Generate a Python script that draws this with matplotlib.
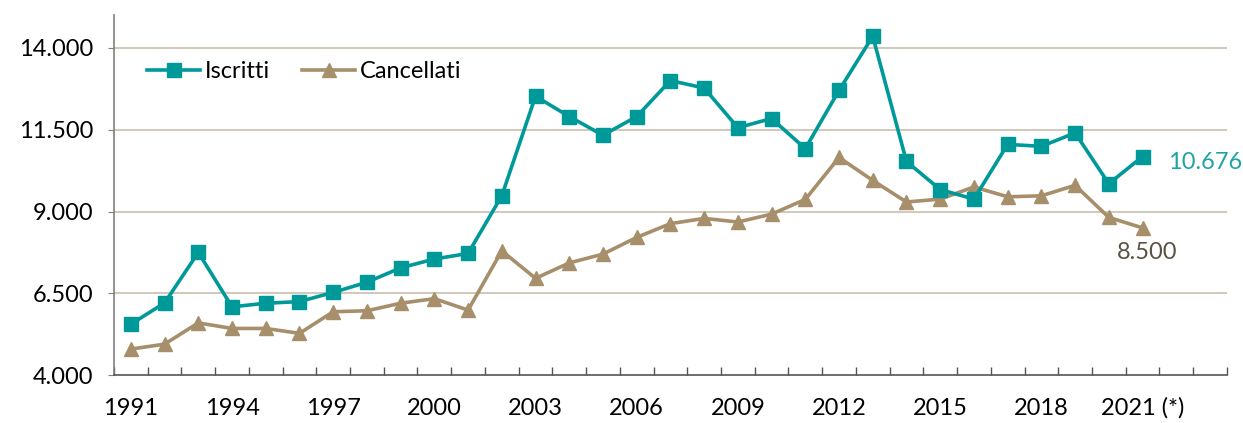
import matplotlib
matplotlib.use("Agg")
import matplotlib.pyplot as plt
import numpy as np

years = list(range(1991, 2022))
tick_labels = ["1991", "1994", "1997", "2000", "2003", "2006", "2009",
               "2012", "2015", "2018", "2021 (*)"]
iscritti = [5560, 6210, 7750, 6090, 6200, 6250, 6530, 6840, 7280, 7550, 7720,
            9480, 12520, 11900, 11330, 11900, 13000, 12770, 11560, 11840, 10920,
            12700, 14350, 10530, 9670, 9380, 11050, 10990, 11400, 9850, 10676]
cancellati = [4800, 4950, 5600, 5430, 5430, 5280, 5940, 5970, 6200, 6340, 5990,
              7800, 6960, 7430, 7700, 8210, 8630, 8790, 8680, 8920, 9370,
              10650, 9950, 9290, 9380, 9750, 9450, 9480, 9800, 8820, 8500]
n_categories = 33

plt.rcParams['font.family'] = ['Lato', 'DejaVu Sans']

teal = "#009999"
tan = "#A68F6A"
grid_c = "#C9BFAE"
fs = 17

fig = plt.figure(figsize=(12.43, 4.23), dpi=100)
ax = fig.add_axes([0.0917, 0.1128, 0.8953, 0.8517])

x = np.arange(len(years))
ax.plot(x, iscritti, color=teal, lw=2.6, marker='s', ms=10, label="Iscritti",
        zorder=4)
ax.plot(x, cancellati, color=tan, lw=2.6, marker='^', ms=10, label="Cancellati",
        zorder=3)

ax.set_xlim(-0.5, n_categories - 0.5)
ax.set_ylim(4000, 15000)
yt = [4000, 6500, 9000, 11500, 14000]
ax.set_yticks(yt)
ax.set_yticklabels([f"{v:,}".replace(",", ".") for v in yt], fontsize=fs)
for v in yt[1:]:
    ax.axhline(v, color=grid_c, lw=1.2, zorder=1)

ax.set_xticks(np.arange(-0.5, n_categories, 1.0), minor=True)
ax.set_xticks([years.index(int(l[:4])) for l in tick_labels])
ax.set_xticklabels(tick_labels, fontsize=fs)
ax.tick_params(axis='x', which='major', length=0, pad=16)
ax.tick_params(axis='x', which='minor', direction='in', length=6, color="#555555",
               width=1)
ax.tick_params(axis='y', length=4, color="#808080", pad=11, direction='out')

for s in ['top', 'right']:
    ax.spines[s].set_visible(False)
ax.spines['left'].set_color("#808080")
ax.spines['bottom'].set_color("#555555")
ax.spines['left'].set_linewidth(1.2)
ax.spines['bottom'].set_linewidth(1.2)

leg = ax.legend(loc='center left', bbox_to_anchor=(0.03, 0.842), ncol=2,
                frameon=False, fontsize=fs, handlelength=2.25, handletextpad=0.2,
                columnspacing=1.35, borderaxespad=0, borderpad=0)
leg.set_zorder(5)

ax.annotate("10.676", (x[-1], iscritti[-1]), xytext=(25, -6),
            textcoords='offset pixels', color="#1FA3A3", fontsize=fs,
            ha='left', va='center')
ax.annotate("8.500", (x[-1], cancellati[-1]), xytext=(5, -25),
            textcoords='offset pixels', color="#5A5142", fontsize=fs,
            ha='center', va='center')

fig.savefig("out.png", dpi=100)
